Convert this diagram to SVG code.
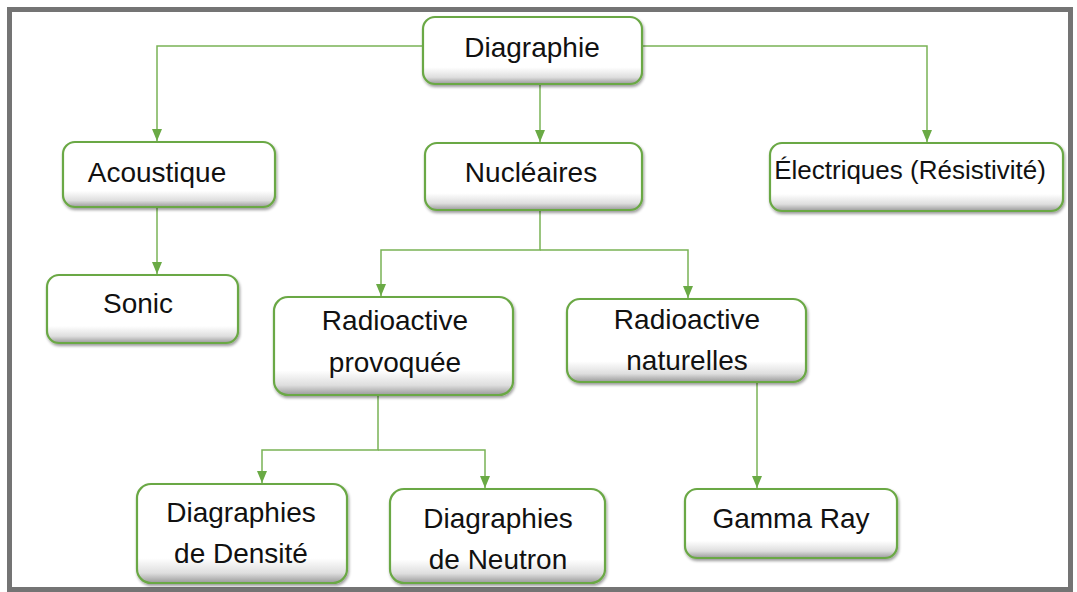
<svg xmlns="http://www.w3.org/2000/svg" width="1077" height="592" viewBox="0 0 1077 592">
<defs>
<linearGradient id="bevel" x1="0" y1="0" x2="0" y2="1">
<stop offset="0" stop-color="#ffffff"/>
<stop offset="0.75" stop-color="#ffffff"/>
<stop offset="0.9" stop-color="#dedede"/>
<stop offset="1" stop-color="#9a9a9a"/>
</linearGradient>
<marker id="arr" viewBox="0 0 12 10" refX="12" refY="5" markerWidth="12" markerHeight="10" markerUnits="userSpaceOnUse" orient="auto">
<path d="M0,0 L12,5 L0,10 Z" fill="#6aaa45"/>
</marker>
<filter id="sh" x="-5%" y="-10%" width="110%" height="125%">
<feGaussianBlur in="SourceAlpha" stdDeviation="1.5"/>
<feOffset dx="0.5" dy="1.5" result="b"/>
<feComponentTransfer><feFuncA type="linear" slope="0.4"/></feComponentTransfer>
<feMerge><feMergeNode/><feMergeNode in="SourceGraphic"/></feMerge>
</filter>
</defs>
<style>
.box{fill:url(#bevel);stroke:#6aa844;stroke-width:2.2;filter:url(#sh)}
.t{font-family:"Liberation Sans",Arial,sans-serif;font-size:28px;fill:#111;text-anchor:middle}
.s{font-size:26px}
.c{fill:none;stroke:#7ab356;stroke-width:1.5}
</style>
<rect x="0" y="0" width="1077" height="592" fill="#ffffff"/>
<rect x="9.5" y="9.5" width="1061" height="580" fill="none" stroke="#747474" stroke-width="5"/>
<g id="connectors">
<polyline class="c" points="423,46 157,46 157,141" marker-end="url(#arr)"/>
<polyline class="c" points="642,46 927,46 927,142" marker-end="url(#arr)"/>
<polyline class="c" points="540,84 540,142" marker-end="url(#arr)"/>
<polyline class="c" points="157,207 157,274" marker-end="url(#arr)"/>
<polyline class="c" points="540,210 540,250 381,250 381,296" marker-end="url(#arr)"/>
<polyline class="c" points="540,250 688,250 688,298" marker-end="url(#arr)"/>
<polyline class="c" points="378,395 378,450 262,450 262,483" marker-end="url(#arr)"/>
<polyline class="c" points="378,450 485,450 485,488" marker-end="url(#arr)"/>
<polyline class="c" points="757,382 757,488" marker-end="url(#arr)"/>
</g>
<g id="n-diagraphie"><rect class="box" x="423" y="17" width="219" height="67" rx="12"/><text class="t" x="532" y="57">Diagraphie</text></g>
<g id="n-acoustique"><rect class="box" x="63" y="142" width="212" height="65" rx="12"/><text class="t" x="157" y="182">Acoustique</text></g>
<g id="n-nucleaires"><rect class="box" x="425" y="143" width="217" height="67" rx="12"/><text class="t" x="531" y="182">Nucléaires</text></g>
<g id="n-electriques"><rect class="box" x="770" y="143" width="293" height="68" rx="12"/><text class="t s" x="910" y="179">Électriques (Résistivité)</text></g>
<g id="n-sonic"><rect class="box" x="47" y="275" width="191" height="68" rx="12"/><text class="t" x="138" y="313">Sonic</text></g>
<g id="n-provoquee"><rect class="box" x="274" y="297" width="239" height="98" rx="14"/><text class="t" x="395" y="330">Radioactive</text><text class="t" x="395" y="372">provoquée</text></g>
<g id="n-naturelles"><rect class="box" x="567" y="299" width="239" height="83" rx="13"/><text class="t" x="687" y="329">Radioactive</text><text class="t" x="687" y="370">naturelles</text></g>
<g id="n-densite"><rect class="box" x="137" y="484" width="210" height="99" rx="14"/><text class="t" x="241" y="522">Diagraphies</text><text class="t" x="241" y="563">de Densité</text></g>
<g id="n-neutron"><rect class="box" x="390" y="489" width="215" height="94" rx="14"/><text class="t" x="498" y="528">Diagraphies</text><text class="t" x="498" y="569">de Neutron</text></g>
<g id="n-gamma"><rect class="box" x="685" y="489" width="212" height="69" rx="12"/><text class="t" x="791" y="528">Gamma Ray</text></g>
</svg>
